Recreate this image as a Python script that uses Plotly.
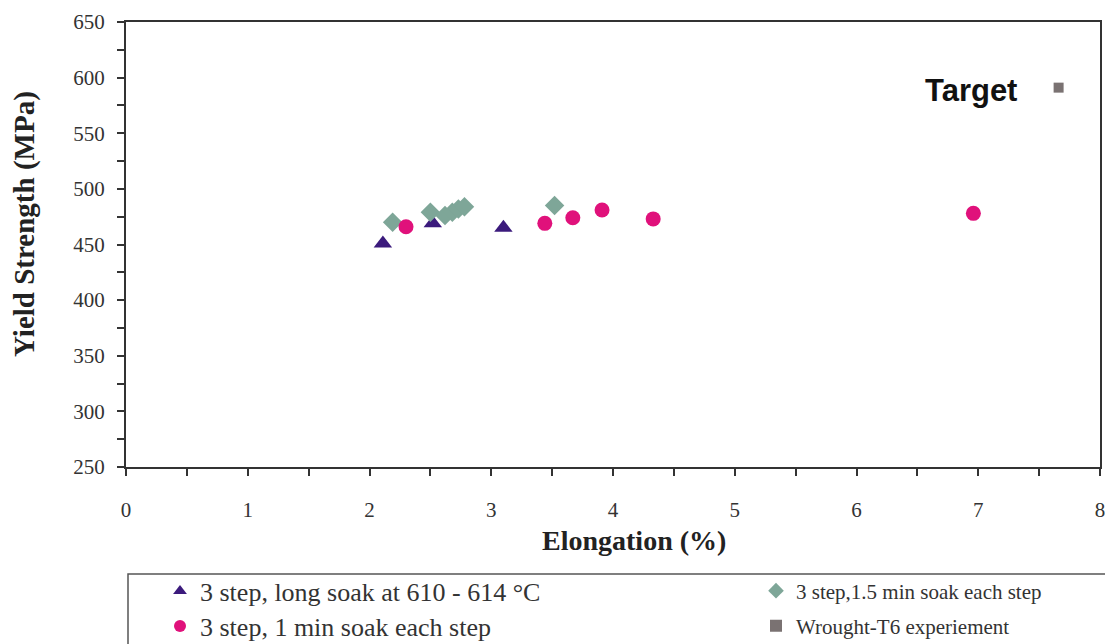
import plotly.graph_objects as go

# Data
tri_x = [2.11, 2.52, 3.10]
tri_y = [451, 469, 465]
dia_x = [2.19, 2.50, 2.62, 2.68, 2.73, 2.78, 3.52]
dia_y = [470, 479, 476, 479, 482, 484, 485]
cir_x = [2.30, 3.44, 3.67, 3.91, 4.33, 6.96]
cir_y = [466, 469, 474, 481, 473, 478]
sq_x = [7.66]
sq_y = [591]

names = ["3 step, long soak at 610 - 614 \u00b0C",
         "3 step,1.5 min soak each step",
         "3 step, 1 min soak each step",
         "Wrought-T6 experiement"]

# page has an 8px body margin; work in page pixels and convert
OFF = 8
W, H = 1113 - OFF, 644 - OFF
L, R, T, B = 126 - OFF, 1100 - OFF, 22 - OFF, 467 - OFF
pw, ph = R - L, B - T

def px2paper_x(px):
    return (px - OFF - L) / pw

def px2paper_y(py):
    return (B - (py - OFF)) / ph

fig = go.Figure()
fig.add_trace(go.Scatter(x=tri_x, y=tri_y, mode="markers", name=names[0],
                         marker=dict(symbol="triangle-up", size=16, color="#3b1a7c"),
                         legend="legend"))
fig.add_trace(go.Scatter(x=dia_x, y=dia_y, mode="markers", name=names[1],
                         marker=dict(symbol="diamond", size=15, color="#7ea698"),
                         legend="legend2"))
fig.add_trace(go.Scatter(x=cir_x, y=cir_y, mode="markers", name=names[2],
                         marker=dict(symbol="circle", size=15, color="#e0117b"),
                         legend="legend3"))
fig.add_trace(go.Scatter(x=sq_x, y=sq_y, mode="markers", name=names[3],
                         marker=dict(symbol="square", size=10, color="#7a7272"),
                         legend="legend4"))

serif = "Liberation Serif, Times New Roman, serif"

def leg(px, py, size):
    return dict(x=px2paper_x(px), y=px2paper_y(py), xanchor="left", yanchor="middle",
                font=dict(family=serif, size=size, color="#333333"),
                bgcolor="rgba(0,0,0,0)", itemsizing="constant")

fig.update_layout(
    width=W, height=H,
    margin=dict(l=L, r=W - R, t=T, b=H - B, autoexpand=False),
    paper_bgcolor="white", plot_bgcolor="white",
    showlegend=True,
    legend=leg(160, 591, 26),
    legend2=leg(756, 591, 21),
    legend3=leg(160, 626, 26),
    legend4=leg(756, 626, 21),
    xaxis=dict(range=[0, 8], dtick=1, ticks="outside", ticklen=7, tickwidth=1.5,
               tickcolor="#333", showgrid=False, zeroline=False,
               showline=True, linecolor="#333", linewidth=2, mirror=True,
               tickfont=dict(family=serif, size=21, color="#333"),
               ticklabelstandoff=16,
               minor=dict(dtick=0.5, ticks="outside", ticklen=7, tickwidth=1.5, tickcolor="#333")),
    yaxis=dict(range=[250, 650], dtick=50, ticks="outside", ticklen=7, tickwidth=1.5,
               tickcolor="#333", showgrid=False, zeroline=False,
               showline=True, linecolor="#333", linewidth=2, mirror=True,
               tickfont=dict(family=serif, size=21, color="#333"),
               ticklabelstandoff=8,
               minor=dict(dtick=25, ticks="outside", ticklen=7, tickwidth=1.5, tickcolor="#333")),
)

fig.add_annotation(text="<b>Elongation (%)</b>", xref="paper", yref="paper",
                   x=px2paper_x(634), y=px2paper_y(540), showarrow=False,
                   xanchor="center", yanchor="middle",
                   font=dict(family=serif, size=28, color="#222"))
fig.add_annotation(text="<b>Yield Strength (MPa)</b>", xref="paper", yref="paper",
                   x=px2paper_x(25), y=px2paper_y(224), showarrow=False, textangle=-90,
                   xanchor="center", yanchor="middle",
                   font=dict(family=serif, size=29, color="#222"))
fig.add_annotation(text="<b>Target</b>", xref="paper", yref="paper",
                   x=px2paper_x(971), y=px2paper_y(91), showarrow=False,
                   xanchor="center", yanchor="middle",
                   font=dict(family="Liberation Sans, Arial, sans-serif", size=31, color="#111"))

fig.add_shape(type="rect", xref="paper", yref="paper",
              x0=px2paper_x(128), x1=px2paper_x(1111),
              y0=px2paper_y(574), y1=px2paper_y(660),
              line=dict(color="#555", width=1.5), fillcolor="rgba(0,0,0,0)")

fig.write_html("out.html")
